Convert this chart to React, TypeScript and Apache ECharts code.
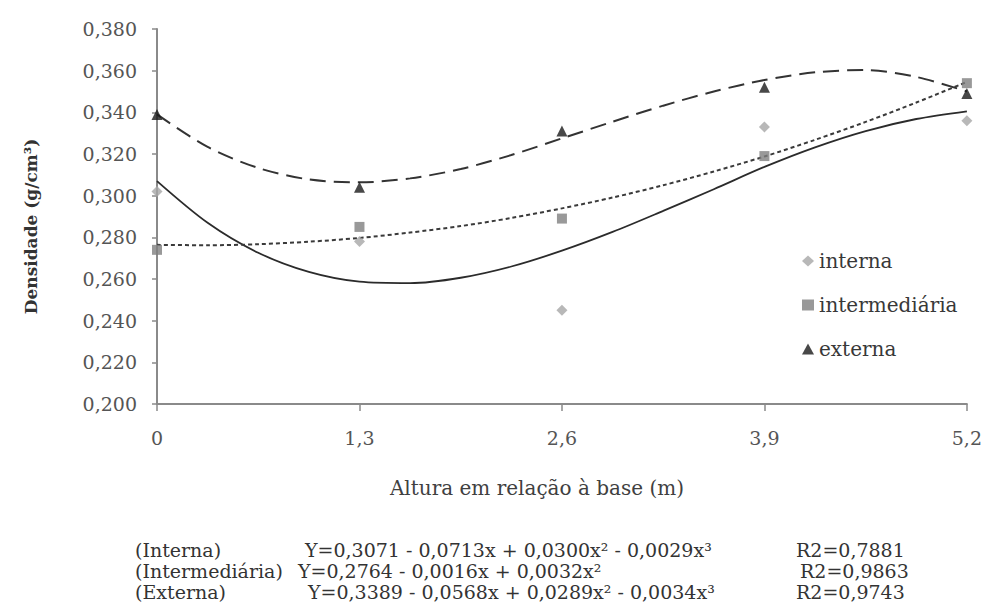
import React, { useEffect, useRef } from "react";
import * as echarts from "echarts";

// Measured points (height from base in m, density g/cm³)
const alturas = [0, 1.3, 2.6, 3.9, 5.2];
const interna = [0.302, 0.278, 0.245, 0.333, 0.336];
const intermediaria = [0.274, 0.285, 0.289, 0.319, 0.354];
const externa = [0.339, 0.304, 0.331, 0.352, 0.349];

// Trend lines
const trendX = [0, 0.325, 0.65, 0.975, 1.3, 1.625, 1.95, 2.275, 2.6, 2.925, 3.25, 3.575, 3.9, 4.225, 4.55, 4.875, 5.2];
const trendInterna = [0.307, 0.287, 0.2726, 0.2634, 0.2587, 0.258, 0.2606, 0.266, 0.2736, 0.2826, 0.2927, 0.3031, 0.3138, 0.3232, 0.331, 0.3368, 0.3405];
const trendIntermediaria = [0.2764, 0.2762, 0.2767, 0.2779, 0.2797, 0.2823, 0.2854, 0.2893, 0.2939, 0.2991, 0.305, 0.3116, 0.3188, 0.3268, 0.3354, 0.3447, 0.3546];
const trendExterna = [0.339, 0.3234, 0.3133, 0.3078, 0.3064, 0.3083, 0.3128, 0.3195, 0.3275, 0.3355, 0.3432, 0.35, 0.3555, 0.3592, 0.3603, 0.357, 0.35];

const seriesNames = ["interna", "intermediária", "externa"];
const eqLabels = ["(Interna)", "(Intermediária)", "(Externa)"];
const eqTexts = [
  "Y=0,3071 - 0,0713x + 0,0300x² - 0,0029x³",
  "Y=0,2764 - 0,0016x + 0,0032x²",
  "Y=0,3389 - 0,0568x + 0,0289x² - 0,0034x³",
];
const eqR2 = ["R2=0,7881", "R2=0,9863", "R2=0,9743"];

const FONT = "'DejaVu Serif', 'Liberation Serif', serif";

const pairs = (xs: number[], ys: number[]) => xs.map((x, i) => [x, ys[i]]);

export default function App() {
  const ref = useRef<HTMLDivElement>(null);
  useEffect(() => {
    document.body.style.margin = "0";
    if (!ref.current) return;
    const chart = echarts.init(ref.current, undefined, { renderer: "svg" });
    const eqY = [550, 571, 592];
    const eqStartX = [305, 298, 308];
    const r2X = [796, 800, 796];
    const graphics: any[] = [];
    eqLabels.forEach((t, i) => {
      graphics.push({
        type: "text",
        x: 135,
        y: eqY[i],
        style: { text: t, font: `19px ${FONT}`, fill: "#333", verticalAlign: "middle", align: "left" },
      });
      graphics.push({
        type: "text",
        x: eqStartX[i],
        y: eqY[i],
        style: { text: eqTexts[i], font: `19px ${FONT}`, fill: "#333", verticalAlign: "middle", align: "left" },
      });
      graphics.push({
        type: "text",
        x: r2X[i],
        y: eqY[i],
        style: { text: eqR2[i], font: `19px ${FONT}`, fill: "#333", verticalAlign: "middle", align: "left" },
      });
    });

    const option: any = {
      animation: false,
      backgroundColor: "#fff",
      grid: { left: 157, right: 17, top: 29, bottom: 199 },
      legend: {
        orient: "vertical",
        left: 797,
        top: 246,
        itemWidth: 12,
        itemHeight: 11,
        itemGap: 24,
        textStyle: { fontFamily: FONT, fontSize: 20, color: "#383838", lineHeight: 20 },
        data: [
          { name: seriesNames[0], icon: "diamond" },
          { name: seriesNames[1], icon: "rect" },
          { name: seriesNames[2], icon: "triangle" },
        ],
      },
      xAxis: {
        type: "value",
        min: 0,
        max: 5.2,
        interval: 1.3,
        name: "Altura em relação à base (m)",
        nameLocation: "middle",
        nameGap: 74,
        nameTextStyle: { fontFamily: FONT, fontSize: 20, color: "#404040", padding: [0, 50, 0, 0] },
        axisLine: { lineStyle: { color: "#8a8a8a", width: 2 } },
        axisTick: { inside: false, length: 7, lineStyle: { color: "#8a8a8a", width: 1.5 } },
        splitLine: { show: false },
        axisLabel: {
          margin: 24,
          fontFamily: FONT,
          fontSize: 19,
          color: "#555",
          formatter: (v: number) => (v === 0 ? "0" : v.toFixed(1).replace(".", ",")),
        },
      },
      yAxis: {
        type: "value",
        min: 0.2,
        max: 0.38,
        interval: 0.02,
        name: "Densidade (g/cm³)",
        nameLocation: "middle",
        nameGap: 118,
        nameTextStyle: {
          fontFamily: FONT,
          fontSize: 17,
          fontWeight: "bold",
          color: "#333",
          padding: [0, 20, 0, 0],
        },
        axisLine: { show: true, lineStyle: { color: "#8a8a8a", width: 2 } },
        axisTick: { show: true, length: 5, lineStyle: { color: "#8a8a8a", width: 1.5 } },
        splitLine: { show: false },
        axisLabel: {
          margin: 20,
          fontFamily: FONT,
          fontSize: 19,
          color: "#555",
          formatter: (v: number) => v.toFixed(3).replace(".", ","),
        },
      },
      series: [
        {
          name: "ajuste interna",
          type: "line",
          data: pairs(trendX, trendInterna),
          smooth: 0.3,
          showSymbol: false,
          lineStyle: { color: "#2b2b2b", width: 1.8, type: "solid" },
          z: 2,
        },
        {
          name: "ajuste intermediária",
          type: "line",
          data: pairs(trendX, trendIntermediaria),
          smooth: 0.3,
          showSymbol: false,
          lineStyle: { color: "#3a3a3a", width: 2, type: [4, 3] },
          z: 2,
        },
        {
          name: "ajuste externa",
          type: "line",
          data: pairs(trendX, trendExterna),
          smooth: 0.3,
          showSymbol: false,
          lineStyle: { color: "#333", width: 2, type: [16, 8] },
          z: 2,
        },
        {
          name: seriesNames[0],
          type: "scatter",
          symbol: "diamond",
          symbolSize: 11,
          itemStyle: { color: "#a6a6a6" },
          data: pairs(alturas, interna),
          z: 5,
        },
        {
          name: seriesNames[1],
          type: "scatter",
          symbol: "rect",
          symbolSize: 10,
          itemStyle: { color: "#808080" },
          data: pairs(alturas, intermediaria),
          z: 5,
        },
        {
          name: seriesNames[2],
          type: "scatter",
          symbol: "triangle",
          symbolSize: 11,
          itemStyle: { color: "#1a1a1a" },
          data: pairs(alturas, externa),
          z: 5,
        },
      ],
      graphic: graphics,
    };
    chart.setOption(option);
    return () => chart.dispose();
  }, []);
  return <div ref={ref} style={{ width: 985, height: 603 }} />;
}
